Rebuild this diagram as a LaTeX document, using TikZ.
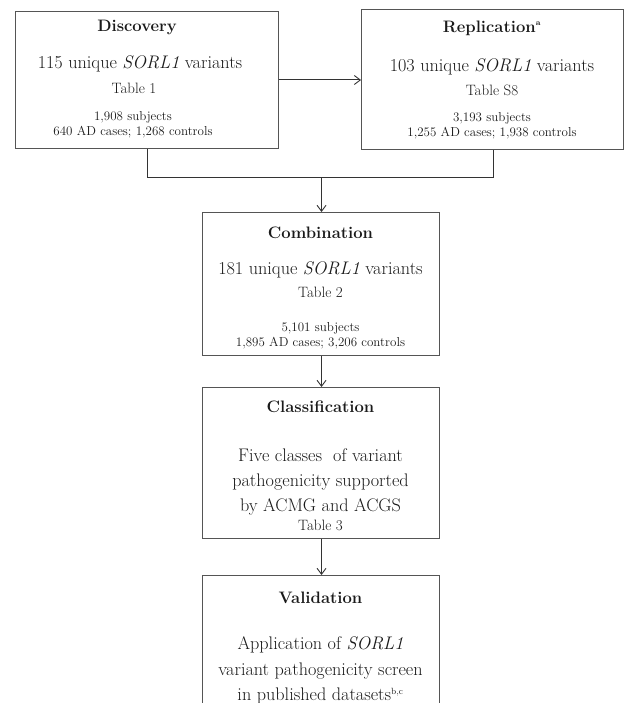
\documentclass[tikz,border=0pt]{standalone}
\usetikzlibrary{arrows.meta}
\definecolor{ln}{HTML}{333333}
\definecolor{bx}{HTML}{555555}
\definecolor{tx}{HTML}{1A1A1A}
\begin{document}
\begin{tikzpicture}[x=1pt,y=-1pt,
  box/.style={draw=bx,line width=1.2pt,rectangle,anchor=north west,inner sep=0pt},
  conn/.style={draw=ln,line width=1pt},
  arr/.style={conn,-{Straight Barb[length=6pt,width=9pt,line width=0.9pt]}},
  ttl/.style={text=tx,font=\fontsize{16.6}{19}\selectfont\bfseries,inner sep=0pt},
  big/.style={text=tx,font=\fontsize{18.2}{21}\selectfont,inner sep=0pt},
  tab/.style={text=tx,font=\fontsize{15}{17}\selectfont,inner sep=0pt},
  sml/.style={text=tx,font=\fontsize{13}{15}\selectfont,inner sep=0pt}]
\useasboundingbox (0,0) rectangle (625,703);
\clip (0,0) rectangle (625,703);
% boxes
\node[box,minimum width=263pt,minimum height=137pt] (disc) at (15,11) {};
\node[box,minimum width=262pt,minimum height=140pt] (repl) at (361,9) {};
\node[box,minimum width=237pt,minimum height=143pt] (comb) at (202,212) {};
\node[box,minimum width=237pt,minimum height=151pt] (clas) at (202,387) {};
\node[box,minimum width=237pt,minimum height=160pt] (vali) at (202,575) {};
% discovery text
\node[ttl] (dt) at (137,27) {Discovery};
\node[big] (d1) at (140,64) {115 unique \textit{SORL1} variants};
\node[tab] (d2) at (134,88) {Table 1};
\node[sml] (d3) at (133,117) {1,908 subjects};
\node[sml] (d4) at (133,132) {640 AD cases; 1,268 controls};
% replication text
\node[ttl] (rt) at (492,28) {Replication\textsuperscript{\fontsize{8}{8}\selectfont a}};
\node[big] (r1) at (492,67) {103 unique \textit{SORL1} variants};
\node[tab] (r2) at (492,90) {Table S8};
\node[sml] (r3) at (492,118) {3,193 subjects};
\node[sml] (r4) at (492,133) {1,255 AD cases; 1,938 controls};
% combination text
\node[ttl] (ct) at (320.5,233) {Combination};
\node[big] (c1) at (320.5,270) {181 unique \textit{SORL1} variants};
\node[tab] (c2) at (320.5,292) {Table 2};
\node[sml] (c3) at (320.5,328) {5,101 subjects};
\node[sml] (c4) at (320.5,343) {1,895 AD cases; 3,206 controls};
% classification text
\node[ttl] (lt) at (320.5,407) {Classification};
\node[big] (l1) at (320.5,455) {Five classes\ \ of variant};
\node[big] (l2) at (320.5,482) {pathogenicity supported};
\node[big] (l3) at (320.5,507) {by ACMG and ACGS};
\node[tab] (l4) at (320.5,525) {Table 3};
% validation text
\node[ttl] (vt) at (320.5,598) {Validation};
\node[big] (v1) at (320.5,645) {Application of \textit{SORL1}};
\node[big] (v2) at (320.5,671) {variant pathogenicity screen};
\node[big] (v3) at (320.5,696) {in published datasets\textsuperscript{\fontsize{9}{9}\selectfont b,c}};
% connectors
\coordinate (j) at (321.5,178);
\draw[arr] (disc.east |- 0,80) -- (repl.west |- 0,80);
\draw[conn] (disc.south -| 147,0) |- (j);
\draw[conn] (repl.south -| 493,0) |- (j);
\draw[arr] (j) -- (comb.north -| j);
\draw[arr] (comb.south -| j) -- (clas.north -| j);
\draw[arr] (clas.south -| j) -- (vali.north -| j);
\end{tikzpicture}
\end{document}
